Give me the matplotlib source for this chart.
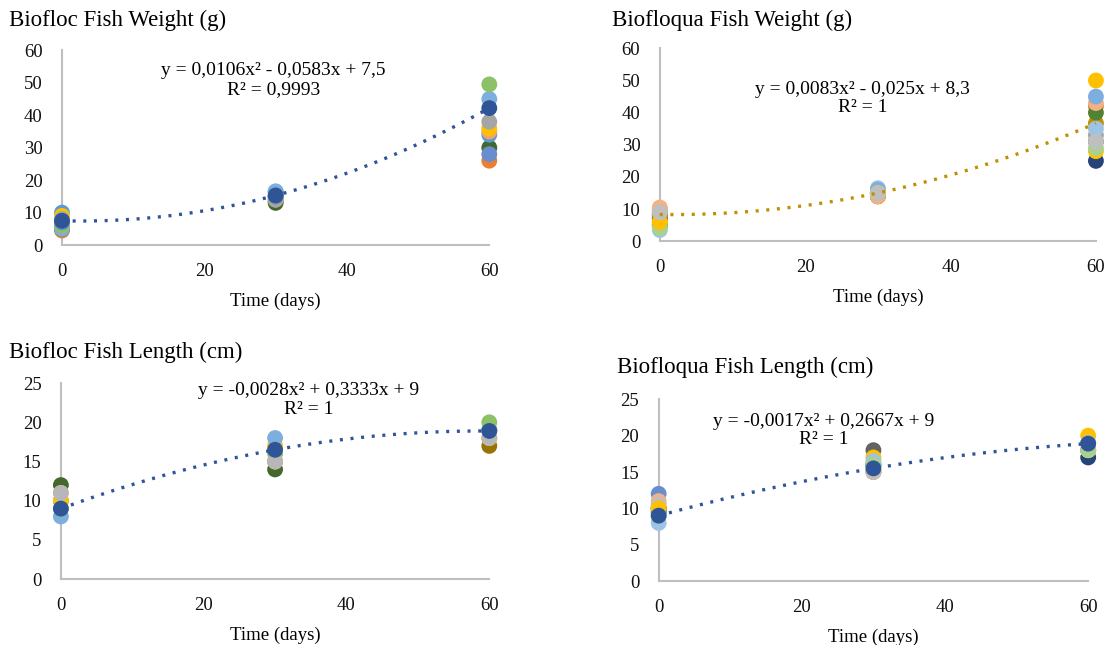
import matplotlib
matplotlib.use("Agg")
import matplotlib.pyplot as plt
import numpy as np

plt.rcParams['font.family'] = ['Liberation Serif', 'DejaVu Serif']

days = [0, 30, 60]

# Biofloc fish weight (g): one list per fish, values at day 0, 30, 60
bw_colors = ['#ED7D31', '#43682B', '#5B9BD5', '#F4A26B', '#FFC000',
             '#A5A5A5', '#7CAFDD', '#8CC168', '#698ED0', '#2F5597']
bw_values = [[4.5, 13.5, 26], [5, 13, 30], [10, 16.5, 34], [6, 14, 35],
             [9, 15, 36], [8, 14, 38], [5, 16.5, 45], [6, 15, 49.5],
             [7, 15, 28], [7.5, 15.3, 42.2]]

# Biofloqua fish weight (g)
qw_colors = ['#264478', '#636363', '#FFC000', '#A5A5A5', '#BF9000', '#ED7D31',
             '#548235', '#F4B183', '#9DC3E6', '#7CAFDD', '#A9D18E', '#FFC000',
             '#BFBFBF']
qw_values = [[7, 14, 25], [8, 14, 31], [6, 15, 28], [9, 15, 33],
             [8.3, 15.0, 36.7], [10, 14, 42], [5, 15, 40], [10.5, 14, 43],
             [3.5, 16.5, 35], [5, 16, 45], [4, 15, 29], [6, 15, 50],
             [9, 15, 31]]

# Biofloc fish length (cm)
bl_colors = ['#997300', '#43682B', '#FFC000', '#F4B183', '#7CAFDD',
             '#8CC168', '#B7B7B7', '#2F5597']
bl_values = [[10, 15, 17], [12, 14, 19], [10, 17, 18], [11, 15, 18],
             [8, 18, 19], [9, 16, 20], [11, 15, 18], [9, 16.5, 18.9]]

# Biofloqua fish length (cm)
ql_colors = ['#636363', '#264478', '#997300', '#698ED0', '#F4B183',
             '#BFBFBF', '#FFC000', '#9DC3E6', '#A9D18E', '#2F5597']
ql_values = [[10, 18, 18], [9.5, 16, 17], [10, 15, 18], [12, 16, 19],
             [11, 15, 18], [10.5, 15, 18], [10, 17, 20], [8, 16.5, 19],
             [9, 16, 18], [9, 15.5, 18.9]]

panels = [
    dict(rect=[0.056, 0.620, 0.386, 0.302], title="Biofloc Fish Weight (g)",
         tpos=(0.008, 0.968), colors=bw_colors, values=bw_values, trend=9,
         tcolor='#2F5597', ymax=60, ystep=10,
         eq="y = 0,0106x² - 0,0583x + 7,5\nR² = 0,9993", eqpos=(0.247, 0.876)),
    dict(rect=[0.596, 0.626, 0.394, 0.299], title="Biofloqua Fish Weight (g)",
         tpos=(0.553, 0.968), colors=qw_colors, values=qw_values, trend=4,
         tcolor='#BF9000', ymax=60, ystep=10,
         eq="y = 0,0083x² - 0,025x + 8,3\nR² = 1", eqpos=(0.779, 0.847)),
    dict(rect=[0.055, 0.102, 0.387, 0.304], title="Biofloc Fish Length (cm)",
         tpos=(0.008, 0.453), colors=bl_colors, values=bl_values, trend=7,
         tcolor='#2F5597', ymax=25, ystep=5,
         eq="y = -0,0028x² + 0,3333x + 9\nR² = 1", eqpos=(0.279, 0.380)),
    dict(rect=[0.595, 0.099, 0.388, 0.282], title="Biofloqua Fish Length (cm)",
         tpos=(0.557, 0.430), colors=ql_colors, values=ql_values, trend=9,
         tcolor='#2F5597', ymax=25, ystep=5,
         eq="y = -0,0017x² + 0,2667x + 9\nR² = 1", eqpos=(0.744, 0.333)),
]

fig = plt.figure(figsize=(11.07, 6.45), dpi=100)

for p in panels:
    ax = fig.add_axes(p['rect'])
    for c, v in zip(p['colors'], p['values']):
        ax.scatter(days, v, s=130, color=c, edgecolors='none', zorder=3,
                   clip_on=False)
    # polynomial (order 2) trendline through the fitted series
    coef = np.polyfit(days, p['values'][p['trend']], 2)
    xs = np.linspace(0, 60, 200)
    ax.plot(xs, np.polyval(coef, xs), color=p['tcolor'], lw=2.4,
            linestyle=(0, (0.9, 2.3)), zorder=4, clip_on=False)
    ax.set_xlim(0, 60)
    ax.set_ylim(0, p['ymax'])
    ax.set_xticks([0, 20, 40, 60])
    ax.set_yticks(np.arange(0, p['ymax'] + 1, p['ystep']))
    for s in ['top', 'right']:
        ax.spines[s].set_visible(False)
    for s in ['left', 'bottom']:
        ax.spines[s].set_color('#BFBFBF')
        ax.spines[s].set_linewidth(1.5)
    ax.tick_params(length=0, labelsize=13.5, colors='#111111')
    ax.tick_params(axis='x', pad=13)
    ax.tick_params(axis='y', pad=14)
    ax.set_xlabel("Time (days)", fontsize=13.5, labelpad=9)
    fig.text(p['tpos'][0], p['tpos'][1], p['title'], fontsize=16.5,
             ha='left', va='center')
    fig.text(p['eqpos'][0], p['eqpos'][1], p['eq'], fontsize=14,
             ha='center', va='center', linespacing=1.1)

fig.savefig("out.png", dpi=100)
